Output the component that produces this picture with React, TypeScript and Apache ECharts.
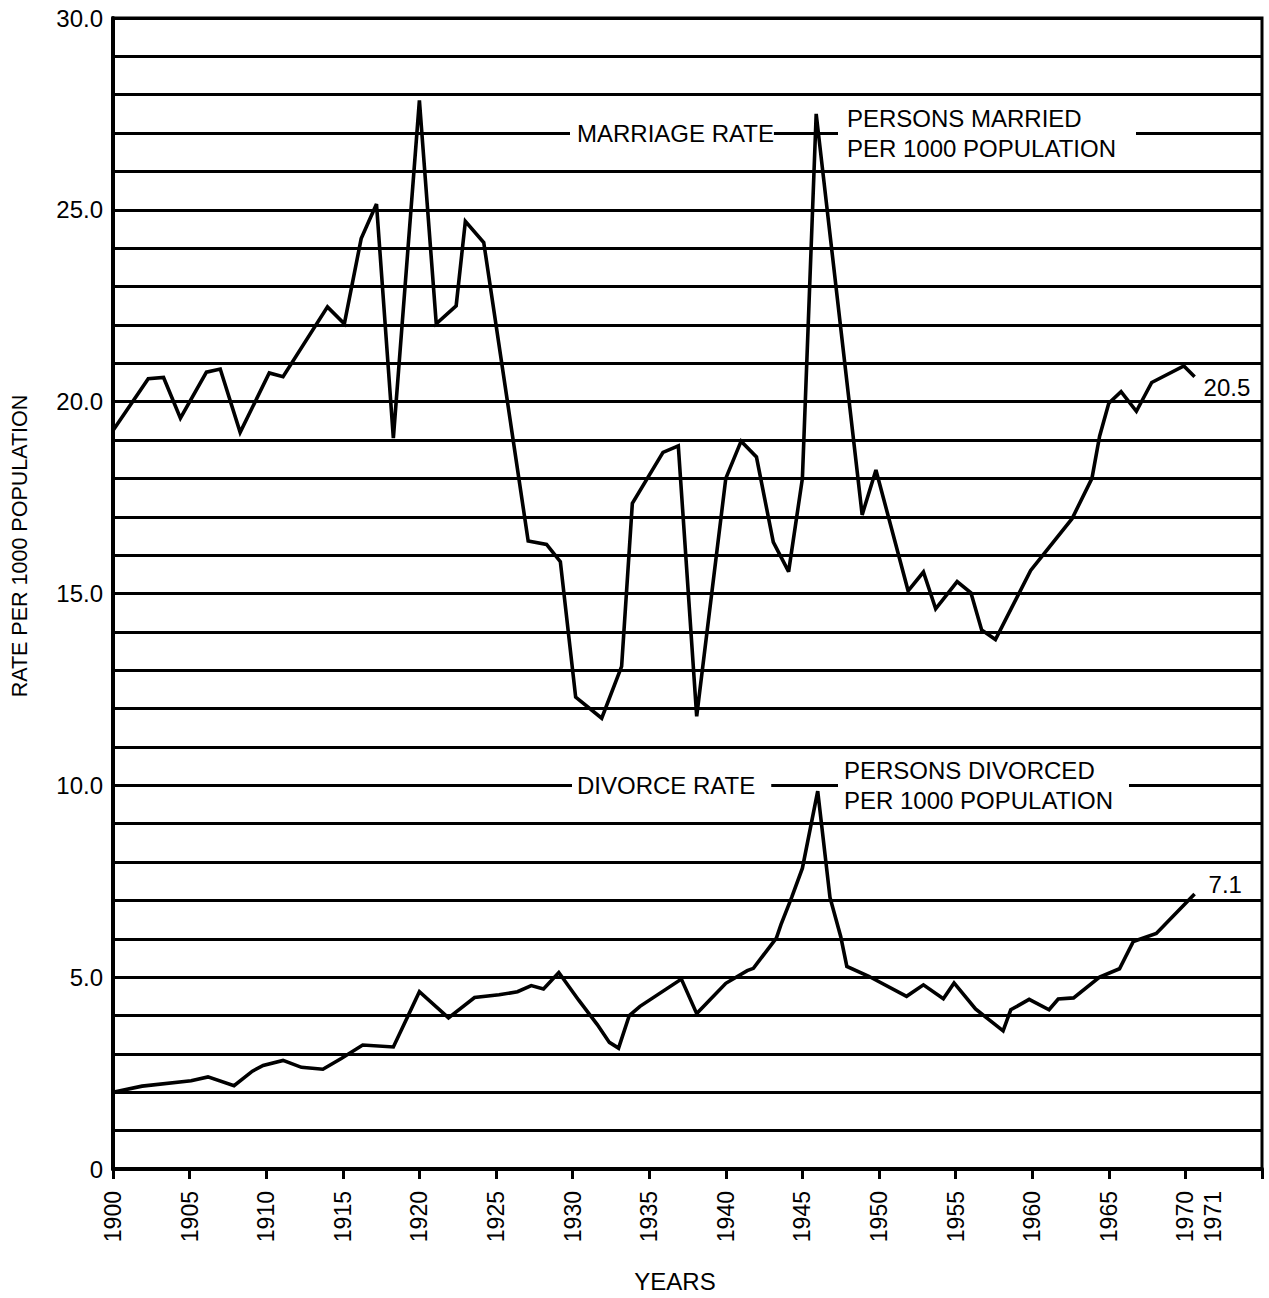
import React, { useEffect, useRef } from 'react';
import * as echarts from 'echarts';

// Marriage rate: persons married per 1000 population
const marriageYears = [
  1900, 1902.3, 1903.3, 1904.4, 1906.1, 1907, 1908.3, 1910.2, 1911.1, 1914,
  1915.1, 1916.2, 1917.2, 1918.3, 1920, 1921.1, 1922.4, 1923, 1924.2, 1927.1,
  1928.3, 1929.2, 1930.2, 1931.9, 1933.2, 1933.9, 1935.9, 1936.9, 1938.1, 1940,
  1941, 1942, 1943.1, 1944.1, 1945, 1945.9, 1948.9, 1949.8, 1951.9, 1952.9,
  1953.7, 1955.1, 1956, 1956.7, 1957.6, 1959.9, 1962.6, 1963.9, 1964.4, 1965,
  1965.8, 1966.8, 1967.8, 1969.9, 1970.6,
];
const marriageRates = [
  19.25, 20.6, 20.63, 19.57, 20.77, 20.85, 19.2, 20.75, 20.65, 22.47,
  22.03, 24.25, 25.15, 19.05, 27.85, 22.03, 22.5, 24.7, 24.15, 16.37,
  16.28, 15.83, 12.3, 11.75, 13.1, 17.35, 18.68, 18.85, 11.8, 18.0,
  18.97, 18.56, 16.34, 15.57, 18.0, 27.5, 17.05, 18.22, 15.07, 15.56,
  14.6, 15.31, 15.02, 14.05, 13.8, 15.6, 16.95, 18.0, 19.1, 19.96,
  20.26, 19.75, 20.5, 20.93, 20.65,
];

// Divorce rate: persons divorced per 1000 population
const divorceYears = [
  1900, 1901.9, 1905.1, 1906.2, 1907.9, 1909.1, 1909.8, 1911.1, 1912.3, 1913.7,
  1914.9, 1916.3, 1918.3, 1920, 1921.9, 1923.6, 1925.2, 1926.4, 1927.3, 1928.1,
  1929.1, 1930.4, 1931.6, 1932.4, 1933, 1933.7, 1934.4, 1937.1, 1938.1, 1940,
  1941.4, 1941.8, 1943.3, 1943.6, 1944.3, 1945, 1946, 1946.8, 1947.5, 1947.9,
  1949.3, 1951.8, 1952.9, 1954.2, 1954.9, 1956.3, 1958.1, 1958.6, 1959.8, 1961.1,
  1961.7, 1962.7, 1964.4, 1965.7, 1966.6, 1968.1, 1970.6,
];
const divorceRates = [
  2.0, 2.16, 2.3, 2.4, 2.17, 2.55, 2.7, 2.83, 2.65, 2.6,
  2.88, 3.23, 3.18, 4.62, 3.94, 4.47, 4.54, 4.62, 4.78, 4.69,
  5.12, 4.4, 3.77, 3.3, 3.15, 4.0, 4.24, 4.95, 4.05, 4.84,
  5.17, 5.23, 6.02, 6.37, 7.08, 7.84, 9.85, 7.08, 6.06, 5.28,
  5.03, 4.5, 4.8, 4.44, 4.85, 4.17, 3.6, 4.15, 4.42, 4.15,
  4.43, 4.46, 5.0, 5.22, 5.93, 6.14, 7.17,
];

const yTickValues = [0, 5, 10, 15, 20, 25, 30];
const yTickLabels = ['0', '5.0', '10.0', '15.0', '20.0', '25.0', '30.0'];
const xTickYears = [1900, 1905, 1910, 1915, 1920, 1925, 1930, 1935, 1940, 1945, 1950, 1955, 1960, 1965, 1970, 1975];
const xLabelYears = [1900, 1905, 1910, 1915, 1920, 1925, 1930, 1935, 1940, 1945, 1950, 1955, 1960, 1965, 1970, 1971];

const marriageEndLabel = '20.5';
const divorceEndLabel = '7.1';

const FONT = "'Liberation Sans', Arial, sans-serif";

export default function App() {
  const ref = useRef<HTMLDivElement>(null);

  useEffect(() => {
    const chart = echarts.init(ref.current as HTMLDivElement, null, { renderer: 'svg' });
    // the lone 1971 label sits just to the right of 1970 in the original
    const labelPositions = xLabelYears.map((y) => (y === 1971 ? 1971.8 : y));
    const marriageData = marriageYears.map((y, i) => [y, marriageRates[i]]);
    const divorceData = divorceYears.map((y, i) => [y, divorceRates[i]]);

    const annotationStyle = {
      fill: '#000',
      fontSize: 24,
      fontFamily: FONT,
      backgroundColor: '#fff',
      verticalAlign: 'middle',
      align: 'left',
      lineHeight: 30,
    };

    const lineStyle = { color: '#000', width: 3.6, join: 'miter', miterLimit: 3 };

    chart.setOption({
      animation: false,
      backgroundColor: '#fff',
      grid: {
        left: 113,
        right: 7,
        top: 18,
        bottom: 129,
        show: true,
        borderColor: '#000',
        borderWidth: 3,
        backgroundColor: 'transparent',
      },
      xAxis: {
        type: 'value',
        min: 1900,
        max: 1975,
        interval: 5,
        axisLine: { show: true, lineStyle: { color: '#000', width: 4 } },
        axisTick: {
          show: true,
          customValues: xTickYears,
          length: 10,
          lineStyle: { color: '#000', width: 3 },
        },
        axisLabel: {
          customValues: labelPositions,
          rotate: 90,
          margin: 22,
          fontSize: 23,
          color: '#000',
          fontFamily: FONT,
          formatter: (v: number) => (v > 1971 && v < 1972 ? '1971' : String(Math.round(v))),
        },
        splitLine: { show: false },
      },
      yAxis: {
        type: 'value',
        min: 0,
        max: 30,
        interval: 1,
        axisLine: { show: true, lineStyle: { color: '#000', width: 4 } },
        axisTick: { show: false },
        axisLabel: {
          customValues: yTickValues,
          formatter: (v: number) => {
            const i = yTickValues.indexOf(Math.round(v));
            return i >= 0 ? yTickLabels[i] : '';
          },
          margin: 10,
          fontSize: 24,
          color: '#000',
          fontFamily: FONT,
          padding: [10, 0, 0, 0],
        },
        splitLine: { show: true, lineStyle: { color: '#000', width: 3 } },
      },
      series: [
        {
          name: 'Marriage rate',
          type: 'line',
          data: marriageData,
          symbol: 'none',
          lineStyle,
          z: 3,
          endLabel: {
            show: true,
            formatter: () => marriageEndLabel,
            color: '#000',
            fontSize: 24,
            fontFamily: FONT,
            distance: 5,
            offset: [4, 11],
          },
        },
        {
          name: 'Divorce rate',
          type: 'line',
          data: divorceData,
          symbol: 'none',
          lineStyle,
          z: 3,
          endLabel: {
            show: true,
            formatter: () => divorceEndLabel,
            color: '#000',
            fontSize: 24,
            fontFamily: FONT,
            distance: 5,
            offset: [9, -9],
          },
        },
      ],
      graphic: [
        {
          type: 'text',
          x: 20,
          y: 546,
          rotation: Math.PI / 2,
          z: 1,
          style: {
            text: 'RATE PER 1000 POPULATION',
            fill: '#000',
            fontSize: 21.5,
            fontFamily: FONT,
            align: 'center',
            verticalAlign: 'middle',
          },
        },
        {
          type: 'text',
          x: 675,
          y: 1281,
          z: 1,
          style: {
            text: 'YEARS',
            fill: '#000',
            fontSize: 24,
            fontFamily: FONT,
            align: 'center',
            verticalAlign: 'middle',
          },
        },
        {
          type: 'text',
          x: 570,
          y: 133,
          z: 1,
          style: { ...annotationStyle, text: 'MARRIAGE RATE', padding: [2, 0, 2, 7] },
        },
        {
          type: 'text',
          x: 838,
          y: 133,
          z: 1,
          style: {
            ...annotationStyle,
            text: 'PERSONS MARRIED\nPER 1000 POPULATION',
            padding: [2, 20, 2, 9],
          },
        },
        {
          type: 'text',
          x: 572,
          y: 785,
          z: 1,
          style: { ...annotationStyle, text: 'DIVORCE RATE', padding: [2, 16, 2, 5] },
        },
        {
          type: 'text',
          x: 838,
          y: 785,
          z: 1,
          style: {
            ...annotationStyle,
            text: 'PERSONS DIVORCED\nPER 1000 POPULATION',
            padding: [2, 16, 2, 6],
          },
        },
      ],
    });

    return () => {
      chart.dispose();
    };
  }, []);

  return (
    <div
      ref={ref}
      style={{ position: 'fixed', left: 0, top: 0, width: 1269, height: 1298, background: '#fff' }}
    />
  );
}
